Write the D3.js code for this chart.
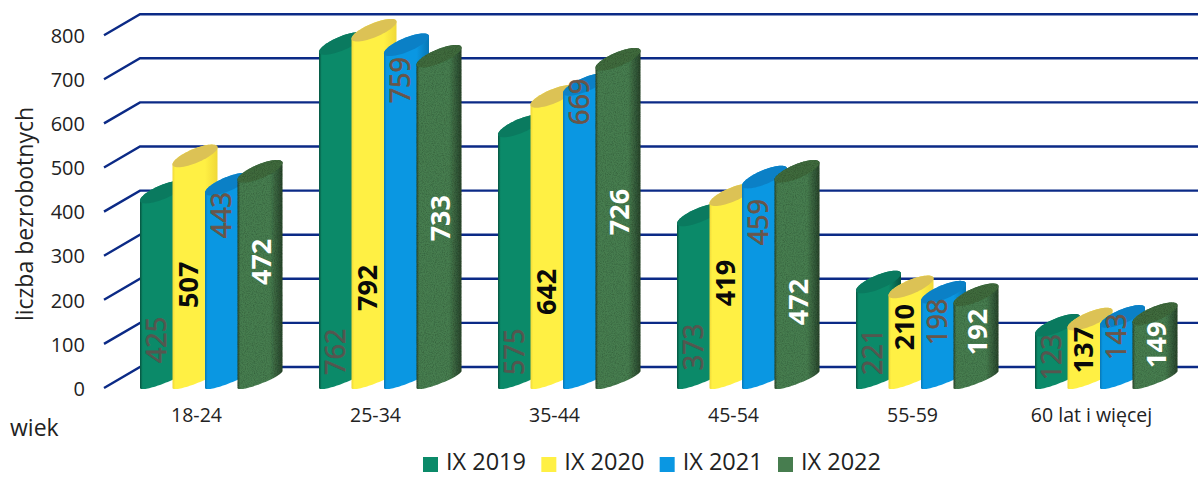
<!DOCTYPE html>
<html><head><meta charset="utf-8">
<script src="https://cdn.jsdelivr.net/npm/d3@7/dist/d3.min.js"></script>
<style>html,body{margin:0;background:#fff}svg{display:block}text{font-family:"Open Sans",sans-serif}</style>
</head><body><svg id="c" width="1198" height="477"></svg>
<script>
const categories = ["18-24","25-34","35-44","45-54","55-59","60 lat i więcej"];
const seriesNames = ["IX 2019","IX 2020","IX 2021","IX 2022"];
const s2019 = [425,762,575,373,221,123];
const s2020 = [507,792,642,419,210,137];
const s2021 = [443,759,669,459,198,143];
const s2022 = [472,733,726,472,192,149];
const yTicks = [0,100,200,300,400,500,600,700,800];
// axis value at which each rotated data label is centred
const at2019 = [109,82,82,93,82,70];
const at2020 = [234,227,218,238,138,86];
const at2021 = [392,698,649,376,150,116];
const at2022 = [286,385,399,195,127,98];

const values=[s2019,s2020,s2021,s2022], labelAt=[at2019,at2020,at2021,at2022];
const look=[
 {base:"#0b8a69",edge:"#06523f",cap:"#0a7a5f",text:"#55564f",bold:false},
 {base:"#fff044",edge:"#f0d838",cap:"#dcc255",text:"#0a0a0a",bold:true},
 {base:"#0a97e2",edge:"#0877b5",cap:"#0b80c6",text:"#6a5548",bold:false},
 {base:"#477d4f",edge:"#2a452c",cap:"#3f6a3e",text:"#ffffff",bold:true}];
const svg=d3.select("#c");
const y=d3.scaleLinear().domain([0,800]).range([388,35.2]);
const x0=d3.scaleBand().domain(categories).range([107,1181]);
const x1=d3.scaleBand().domain(seriesNames).range([33,163]);
const depthX=36, depthY=21, capW=45, capRise=17, capM=7.5, baseM=4.5;

const defs=svg.append("defs");
look.forEach((l,i)=>{
 const g=defs.append("linearGradient").attr("id","g"+i);
 [[0,l.edge],[.06,l.base],[.72,l.base],[1,l.edge]].forEach(s=>g.append("stop").attr("offset",s[0]).attr("stop-color",s[1]));
});
const f=defs.append("filter").attr("id","grain").attr("x",0).attr("y",0).attr("width",1).attr("height",1);
f.append("feTurbulence").attr("type","fractalNoise").attr("baseFrequency",.9).attr("numOctaves",2).attr("seed",4).attr("result","n");
f.append("feColorMatrix").attr("in","n").attr("type","matrix").attr("values","0 0 0 0 0  0 0 0 0 0  0 0 0 0 0  0 0 0 .8 -.32").attr("result","d");
f.append("feComposite").attr("in","d").attr("in2","SourceAlpha").attr("operator","in").attr("result","c");
f.append("feMerge").selectAll("feMergeNode").data(["SourceGraphic","c"]).join("feMergeNode").attr("in",d=>d);

// gridlines (floor-to-wall diagonal plus back wall line)
const gridLine=d3.line();
svg.append("g").selectAll("path").data(yTicks).join("path")
 .attr("fill","none").attr("stroke","#0b2a86").attr("stroke-width",2.4)
 .attr("d",v=>gridLine([[140-depthX,y(v)],[140,y(v)-depthY],[1198,y(v)-depthY]]));

// value axis
const ax=svg.append("g").attr("transform","translate(85,0)").call(d3.axisLeft(y).tickValues(yTicks).tickSize(0).tickPadding(0));
ax.select(".domain").remove();
ax.selectAll("text").style("font-family",'"Open Sans",sans-serif').style("font-size","20px").attr("fill","#222").attr("dy",".36em");

// cylinders
const curve=d3.line();
function ring(cx,cy,a,b,m,n=40){return d3.range(n+1).map(k=>{const t=a+(b-a)*k/n;
 return [cx+capW/2*Math.cos(t), cy-capRise/2*Math.cos(t)+m*Math.sin(t)];});}
categories.forEach((c,ci)=>{
 seriesNames.forEach((s,si)=>{
  const v=values[si][ci], l=look[si];
  const left=x0(c)+x1(s), cx=left+capW/2, top=y(v)-capRise/2, bot=y(0)-capRise/2;
  const g=svg.append("g");
  const body=[...ring(cx,bot,Math.PI,0,baseM),...ring(cx,top,0,-Math.PI,capM)];
  g.append("path").attr("d",curve(body)+"Z").attr("fill",`url(#g${si})`)
   .attr("filter",si===3?"url(#grain)":null);
  g.append("path").attr("d",curve(ring(cx,top,0,2*Math.PI,capM,60))+"Z").attr("fill",l.cap)
   .attr("filter",si===3?"url(#grain)":null);
  const lx=left+x1.bandwidth()/2+(si===3?8:0), ly=y(labelAt[si][ci]);
  g.append("text").attr("transform",`translate(${lx},${ly}) rotate(-90)`)
   .attr("text-anchor","middle").attr("dy",".36em").attr("fill",l.text)
   .attr("stroke",l.bold?"none":l.text).attr("stroke-width",.7)
   .attr("font-weight",l.bold?700:400).attr("font-size","27px").text(v);
 });
});

// category labels
svg.append("g").attr("transform","translate(0,428)").call(d3.axisBottom(x0).tickSize(0).tickPadding(0))
 .call(g=>g.select(".domain").remove())
 .selectAll("text").style("font-family",'"Open Sans",sans-serif').style("font-size","19.5px").attr("fill","#222").attr("dy","-.3em");

svg.append("text").attr("transform","translate(33,214) rotate(-90)").attr("text-anchor","middle")
 .attr("font-size","23px").attr("fill","#222").text("liczba bezrobotnych");
svg.append("text").attr("x",10).attr("y",436).attr("font-size","23px").attr("fill","#222").text("wiek");

// legend
const lx=d3.scalePoint().domain(seriesNames).range([423,778]);
const lg=svg.append("g").selectAll("g").data(seriesNames).join("g").attr("transform",d=>`translate(${lx(d)},0)`);
lg.append("rect").attr("y",457).attr("width",15).attr("height",15).attr("fill",(d,i)=>look[i].base);
lg.append("text").attr("x",23).attr("y",470).attr("font-size","23.5px").attr("fill","#222").text(d=>d);
</script></body></html>
